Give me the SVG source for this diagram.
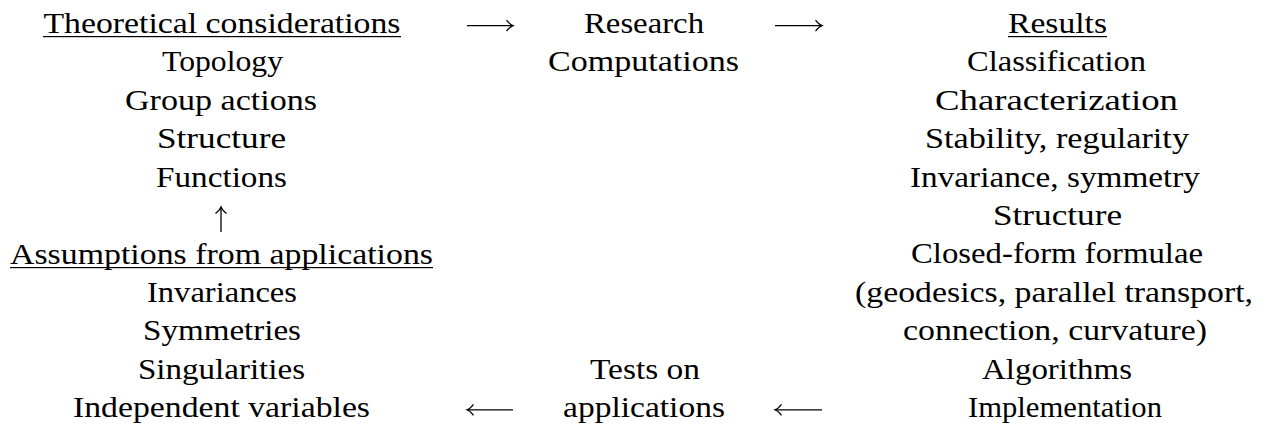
<svg xmlns="http://www.w3.org/2000/svg" width="1269" height="426" viewBox="0 0 1269 426">
<style>
text{font-family:'Liberation Serif','Times New Roman',serif;font-size:30px;fill:#000;text-anchor:middle}
.ul{fill:#000}
.c{stroke:#000;stroke-width:1.3;fill:none}
</style>
<defs>
<marker id="ah" markerWidth="12" markerHeight="14" refX="10" refY="7" orient="auto" markerUnits="userSpaceOnUse">
<path d="M3.5,1.5 Q7,6 10,7 Q7,8 3.5,12.5" fill="none" stroke="#000" stroke-width="1.2"/>
</marker>
</defs>
<rect width="1269" height="426" fill="#fff"/>
<g id="theory">
<text x="222" y="33" textLength="357" lengthAdjust="spacingAndGlyphs">Theoretical considerations</text>
<rect class="ul" x="43" y="36" width="358" height="1.2"/>
<text x="222.5" y="71.4" textLength="121" lengthAdjust="spacingAndGlyphs">Topology</text>
<text x="221" y="109.8" textLength="192" lengthAdjust="spacingAndGlyphs">Group actions</text>
<text x="221.5" y="148.2" textLength="129" lengthAdjust="spacingAndGlyphs">Structure</text>
<text x="221.5" y="186.6" textLength="131" lengthAdjust="spacingAndGlyphs">Functions</text>
</g>
<g id="assumptions">
<text x="221.5" y="263.6" textLength="423" lengthAdjust="spacingAndGlyphs">Assumptions from applications</text>
<rect class="ul" x="10" y="267" width="423" height="1.2"/>
<text x="222" y="301.8" textLength="150" lengthAdjust="spacingAndGlyphs">Invariances</text>
<text x="222" y="340.2" textLength="158" lengthAdjust="spacingAndGlyphs">Symmetries</text>
<text x="221.5" y="378.6" textLength="167" lengthAdjust="spacingAndGlyphs">Singularities</text>
<text x="221.5" y="417" textLength="297" lengthAdjust="spacingAndGlyphs">Independent variables</text>
</g>
<g id="research">
<text x="644" y="33" textLength="120" lengthAdjust="spacingAndGlyphs">Research</text>
<text x="643.5" y="71.4" textLength="191" lengthAdjust="spacingAndGlyphs">Computations</text>
</g>
<g id="tests">
<text x="645" y="378.6" textLength="110" lengthAdjust="spacingAndGlyphs">Tests on</text>
<text x="644" y="417" textLength="162" lengthAdjust="spacingAndGlyphs">applications</text>
</g>
<g id="results">
<text x="1057.5" y="33" textLength="99" lengthAdjust="spacingAndGlyphs">Results</text>
<rect class="ul" x="1008" y="36" width="99" height="1.2"/>
<text x="1056.5" y="71.4" textLength="179" lengthAdjust="spacingAndGlyphs">Classification</text>
<text x="1056.5" y="109.8" textLength="243" lengthAdjust="spacingAndGlyphs">Characterization</text>
<text x="1057" y="148.2" textLength="264" lengthAdjust="spacingAndGlyphs">Stability, regularity</text>
<text x="1055" y="186.6" textLength="290" lengthAdjust="spacingAndGlyphs">Invariance, symmetry</text>
<text x="1057.5" y="225" textLength="129" lengthAdjust="spacingAndGlyphs">Structure</text>
<text x="1057" y="263.4" textLength="292" lengthAdjust="spacingAndGlyphs">Closed-form formulae</text>
<text x="1054" y="301.8" textLength="398" lengthAdjust="spacingAndGlyphs">(geodesics, parallel transport,</text>
<text x="1055" y="340.2" textLength="304" lengthAdjust="spacingAndGlyphs">connection, curvature)</text>
<text x="1057" y="378.6" textLength="150" lengthAdjust="spacingAndGlyphs">Algorithms</text>
<text x="1065" y="417" textLength="194" lengthAdjust="spacingAndGlyphs">Implementation</text>
</g>
<g id="connectors">
<path class="c" d="M467,25.6 H513" marker-end="url(#ah)"/>
<path class="c" d="M775,25.6 H822" marker-end="url(#ah)"/>
<path class="c" d="M221,232 V207" marker-end="url(#ah)"/>
<path class="c" d="M513,409.8 H467" marker-end="url(#ah)"/>
<path class="c" d="M822,409.8 H775" marker-end="url(#ah)"/>
</g>
</svg>
